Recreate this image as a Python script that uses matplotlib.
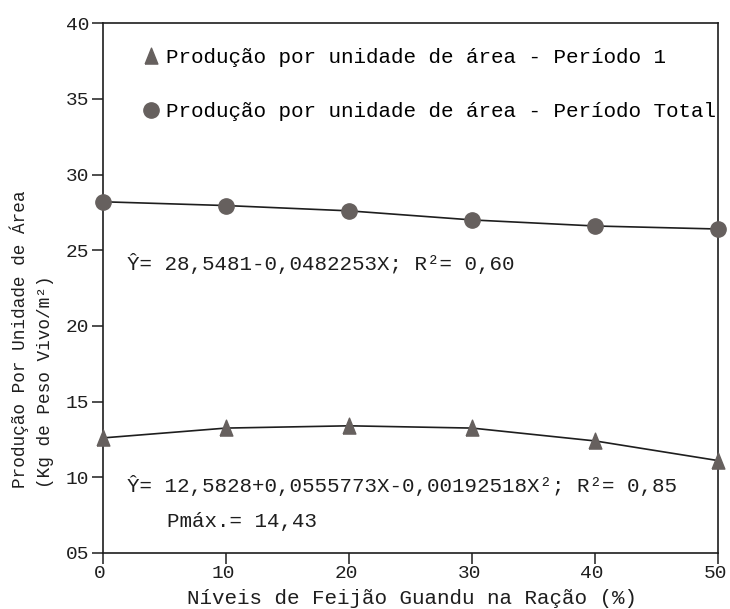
"""Produção por unidade de área vs níveis de feijão guandu na ração."""
import matplotlib
matplotlib.use("Agg")
import matplotlib.pyplot as plt
import matplotlib.transforms as mtransforms
from matplotlib.lines import Line2D
from matplotlib.ticker import FormatStrFormatter

plt.rcParams["font.family"] = ["Liberation Mono", "DejaVu Sans Mono"]

niveis = [0, 10, 20, 30, 40, 50]
periodo_1 = [12.6, 13.25, 13.4, 13.25, 12.4, 11.1]
periodo_total = [28.2, 27.95, 27.6, 27.0, 26.6, 26.4]

label_p1 = "Produção por unidade de área - Período 1"
label_tot = "Produção por unidade de área - Período Total"
eq_tot = "Ŷ= 28,5481-0,0482253X; R²= 0,60"
eq_p1 = "Ŷ= 12,5828+0,0555773X-0,00192518X²; R²= 0,85"
pmax = "Pmáx.= 14,43"

MARK = "#66605e"
INK = "#1e1e1e"
TRI = [(-0.42, -0.5), (0.42, -0.5), (0.0, 0.55), (-0.42, -0.5)]

fig = plt.figure(figsize=(7.3, 6.09), dpi=100)
ax = fig.add_axes([0.141, 0.092, 0.843, 0.870])

ax.plot(niveis, periodo_total, "-", color=INK, lw=1.2, zorder=2)
ax.plot(niveis, periodo_total, "o", color=MARK, ms=11, mec=MARK, zorder=3, clip_on=False)
ax.plot(niveis, periodo_1, "-", color=INK, lw=1.2, zorder=2)
ax.plot(niveis, periodo_1, ls="none", marker=TRI, color=MARK, ms=12, mec=MARK,
        zorder=3, clip_on=False)

ax.set_xlim(0, 50)
ax.set_ylim(5, 40)
ax.set_xticks(niveis)
ax.set_yticks(range(5, 41, 5))
ax.yaxis.set_major_formatter(FormatStrFormatter("%02d"))
ax.tick_params(axis="both", direction="out", length=8, width=1.1, labelsize=14,
               colors=INK, pad=2)
ax.tick_params(axis="x", pad=1)
shift = mtransforms.ScaledTranslation(-3 / 100, 0, fig.dpi_scale_trans)
for lab in ax.get_xticklabels():
    lab.set_transform(lab.get_transform() + shift)
for s in ax.spines.values():
    s.set_linewidth(1.2)
    s.set_color(INK)

handles = [
    Line2D([], [], marker=TRI, ls="none", color=MARK, ms=12),
    Line2D([], [], marker="o", ls="none", color=MARK, ms=11),
]
ax.legend(handles, [label_p1, label_tot], loc="upper left",
          bbox_to_anchor=(0.055, 0.968), frameon=False, fontsize=15,
          handlelength=0.6, handletextpad=0.4, labelspacing=1.65,
          borderaxespad=0)

ax.text(1.95, 24.1, eq_tot, fontsize=15, color=INK, va="center")
ax.text(1.95, 9.45, eq_p1, fontsize=15, color=INK, va="center")
ax.text(5.2, 7.1, pmax, fontsize=15, color=INK, va="center")

fig.text(0.565, 1 - 598 / 609, "Níveis de Feijão Guandu na Ração (%)",
         ha="center", va="center", fontsize=15, color=INK)
fig.text(0.027, 0.199, "Produção Por Unidade de Área", rotation=90,
         ha="center", va="bottom", fontsize=12.8, color=INK)
fig.text(0.062, 0.199, "(Kg de Peso Vivo/m²)", rotation=90,
         ha="center", va="bottom", fontsize=12.8, color=INK)

fig.savefig("out.png", dpi=100)
